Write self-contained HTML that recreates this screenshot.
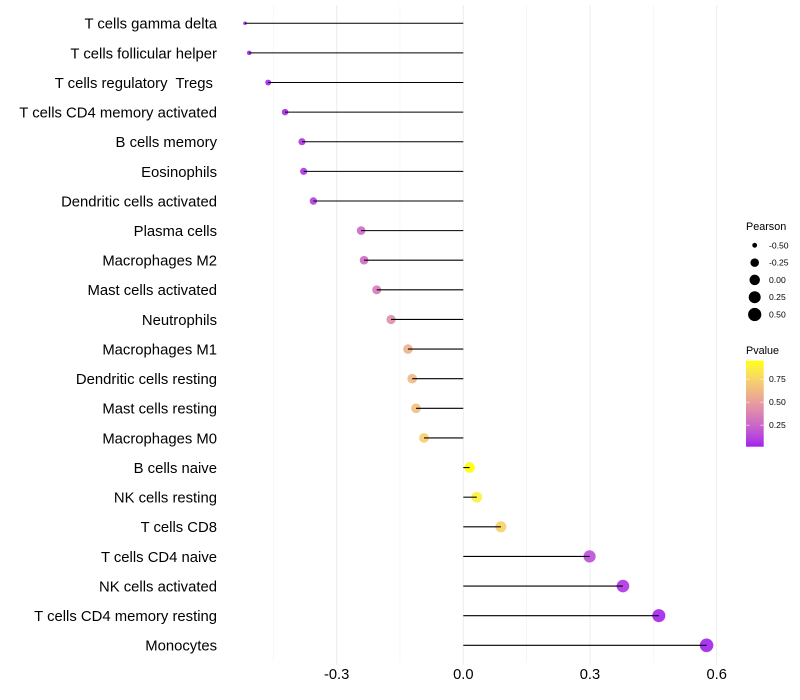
<!DOCTYPE html>
<html lang="en">
<head>
<meta charset="utf-8">
<title>Lollipop chart of immune cell correlation</title>
<style>
html,body{margin:0;padding:0;background:#fff;}
svg{display:block;font-family:"Liberation Sans",sans-serif;}
text{white-space:pre;fill:#000;}
</style>
</head>
<body>
<svg id="chart" xmlns="http://www.w3.org/2000/svg" width="800" height="700" viewBox="0 0 800 700"></svg>
<script>
const categories = ["T cells gamma delta","T cells follicular helper","T cells regulatory  Tregs ","T cells CD4 memory activated","B cells memory","Eosinophils","Dendritic cells activated","Plasma cells","Macrophages M2","Mast cells activated","Neutrophils","Macrophages M1","Dendritic cells resting","Mast cells resting","Macrophages M0","B cells naive","NK cells resting","T cells CD8","T cells CD4 naive","NK cells activated","T cells CD4 memory resting","Monocytes"];
const pearsonValues = [-0.517,-0.507,-0.462,-0.422,-0.382,-0.378,-0.355,-0.242,-0.235,-0.205,-0.171,-0.131,-0.121,-0.112,-0.093,0.015,0.032,0.089,0.299,0.378,0.463,0.576];
const pValues = [0.01,0.012,0.025,0.04,0.07,0.07,0.09,0.26,0.27,0.33,0.43,0.58,0.62,0.65,0.72,0.95,0.88,0.74,0.16,0.07,0.025,0.01];
const xMajorTicks = [-0.3,0,0.3,0.6];
const xMinorTicks = [-0.45,-0.15,0.15,0.45];
const sizeLegendValues = [-0.5,-0.25,0,0.25,0.5];
const colorLegendValues = [0.75,0.5,0.25];

const NS = "http://www.w3.org/2000/svg";
const svg = document.getElementById("chart");
function mk(tag, attrs, parent, text){
  const el = document.createElementNS(NS, tag);
  for (const k in attrs) el.setAttribute(k, attrs[k]);
  if (text !== undefined) el.textContent = text;
  (parent || svg).appendChild(el);
  return el;
}

/* axis functions */
const xScale = v => 463.3 + v * 422.3;
const yScale = i => 23.26 + i * 29.62;
const sizeMin = -0.517, sizeMax = 0.576;
const rScale = v => 1.8 + 5 * Math.sqrt(Math.max(0, (v - sizeMin) / (sizeMax - sizeMin)));

/* colour scale: purple to yellow, interpolated in Lab */
const lowLab = [45.4, 78.3, -76.1], highLab = [97.1, -21.6, 94.5];
function labToHex(L, a, b){
  const fy = (L + 16) / 116, fx = fy + a / 500, fz = fy - b / 200;
  const g = t => t > 6 / 29 ? t * t * t : 3 * (6 / 29) * (6 / 29) * (t - 4 / 29);
  const X = 0.95047 * g(fx), Y = g(fy), Z = 1.08883 * g(fz);
  const lin = [3.2406 * X - 1.5372 * Y - 0.4986 * Z, -0.9689 * X + 1.8758 * Y + 0.0415 * Z, 0.0557 * X - 0.204 * Y + 1.057 * Z];
  return "#" + lin.map(c => {
    c = Math.min(1, Math.max(0, c));
    const s = c <= 0.0031308 ? 12.92 * c : 1.055 * Math.pow(c, 1 / 2.4) - 0.055;
    return Math.round(s * 255).toString(16).padStart(2, "0");
  }).join("");
}
const pMin = 0.017, pMax = 0.95;
function colorScale(p){
  const t = Math.min(1, Math.max(0, (p - pMin) / (pMax - pMin)));
  return labToHex(lowLab[0] + t * (highLab[0] - lowLab[0]), lowLab[1] + t * (highLab[1] - lowLab[1]), lowLab[2] + t * (highLab[2] - lowLab[2]));
}

/* grid */
const gridGroup = mk("g", {});


xMinorTicks.forEach(v => {
  const l = mk("line", {x1:xScale(v), x2:xScale(v), y1:5, y2:662, stroke:"#f3f3f3", "stroke-width":0.7}, gridGroup);
  
  
});
xMajorTicks.forEach(v => {
  const l = mk("line", {x1:xScale(v), x2:xScale(v), y1:5, y2:665, stroke:"#eeeeee", "stroke-width":1.07}, gridGroup);
  
  
});

/* points */
const pointGroup = mk("g", {});


categories.forEach((c, i) => {
  const pt = mk("circle", {cx:xScale(pearsonValues[i]), cy:yScale(i), r:rScale(pearsonValues[i]), fill:colorScale(pValues[i]), "fill-opacity":0.9}, pointGroup);
  
  
});

/* segments */
const segGroup = mk("g", {});


categories.forEach((c, i) => {
  const seg = mk("line", {x1:xScale(0), x2:xScale(pearsonValues[i]), y1:yScale(i), y2:yScale(i), stroke:"#000", "stroke-width":1.07}, segGroup);
  
  
});

/* category labels */
const yAxis = mk("g", {"font-size":14.85, "text-anchor":"end"});


categories.forEach((c, i) => {
  const t = mk("text", {x:217, y:yScale(i) + 5.4}, yAxis, c);
  
  
});

/* x tick labels */
const xAxis = mk("g", {"font-size":14.7, "text-anchor":"middle"});


xMajorTicks.forEach(v => {
  const t = mk("text", {x:xScale(v), y:679}, xAxis, v.toFixed(1));
  
  
});

/* Pearson size legend */
const sizeLegend = mk("g", {});


const sizeTitle = mk("text", {x:746, y:230, "font-size":10.8}, sizeLegend, "Pearson");


sizeLegendValues.forEach((v, i) => {
  const y = 245.3 + i * 17.3;
  const dot = mk("circle", {cx:754.7, cy:y, r:rScale(v), fill:"#000"}, sizeLegend);
  
  
  const lab = mk("text", {x:769, y:y + 3, "font-size":8.6}, sizeLegend, v.toFixed(2));
  
  
});

/* Pvalue colour legend */
const colorLegend = mk("g", {});


const colorTitle = mk("text", {x:746, y:354, "font-size":10.8}, colorLegend, "Pvalue");


const defs = mk("defs", {});
const grad = mk("linearGradient", {id:"pvalue-gradient", x1:0, y1:1, x2:0, y2:0}, defs);
for (let k = 0; k <= 20; k++) {
  mk("stop", {offset:k / 20, "stop-color":colorScale(pMin + (pMax - pMin) * k / 20)}, grad);
}
const barTop = 360.7, barBottom = 446.7, barLeft = 746, barWidth = 17.7;
const pToBar = p => barBottom - (p - pMin) / (pMax - pMin) * (barBottom - barTop);
const bar = mk("rect", {x:barLeft, y:barTop, width:barWidth, height:barBottom - barTop, fill:"url(#pvalue-gradient)"}, colorLegend);


colorLegendValues.forEach(v => {
  const y = pToBar(v);
  const a = mk("line", {x1:barLeft, x2:barLeft + 3.5, y1:y, y2:y, stroke:"#fff", "stroke-width":0.8, "stroke-opacity":0.7}, colorLegend);
  
  
  const b = mk("line", {x1:barLeft + barWidth - 3.5, x2:barLeft + barWidth, y1:y, y2:y, stroke:"#fff", "stroke-width":0.8, "stroke-opacity":0.7}, colorLegend);
  
  
  const lab = mk("text", {x:769, y:y + 3, "font-size":8.6}, colorLegend, v.toFixed(2));
  
  
});
</script>
</body>
</html>
